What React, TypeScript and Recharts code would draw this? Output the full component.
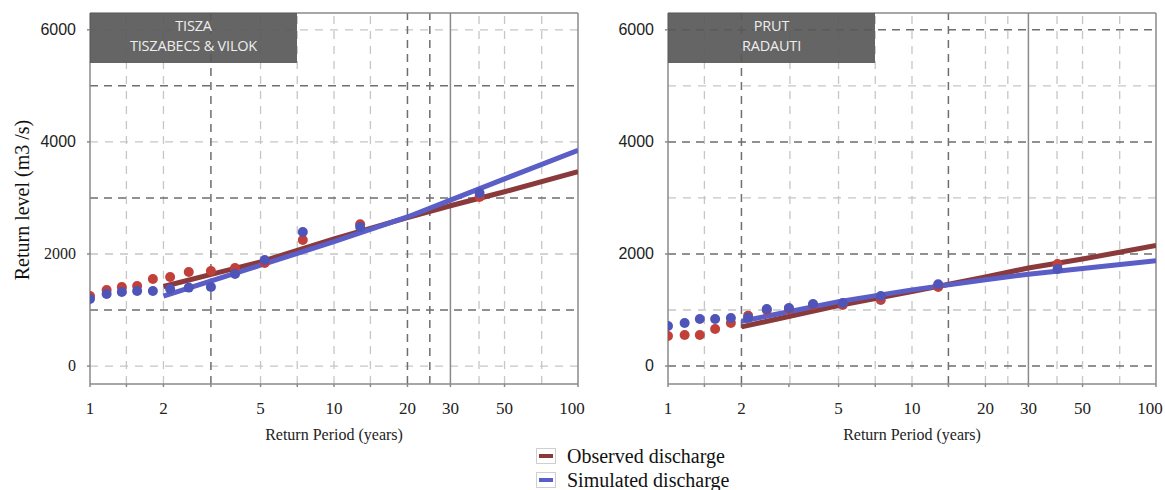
import React from "react";
import {
  ComposedChart,
  Line,
  Scatter,
  XAxis,
  YAxis,
  ReferenceLine,
} from "recharts";

// plotting positions (years) shared by both gauges
const returnPeriods = [1.0, 1.17, 1.35, 1.56, 1.81, 2.13, 2.54, 3.13, 3.93, 5.2, 7.45, 12.8, 39.5];
const tiszaObserved = [1250, 1357, 1411, 1429, 1554, 1589, 1679, 1696, 1750, 1839, 2250, 2530, 3018];
const tiszaSimulated = [1196, 1286, 1321, 1339, 1339, 1375, 1400, 1411, 1643, 1893, 2393, 2482, 3089];
const prutObserved = [536, 554, 554, 661, 768, 900, 1000, 1020, 1090, 1089, 1179, 1411, 1821];
const prutSimulated = [714, 768, 839, 839, 857, 860, 1018, 1036, 1107, 1125, 1250, 1460, 1732];

// fitted curves
const fitPeriods = [2, 5, 10, 20, 30, 50, 100];
const tiszaObservedFit = [1420, 1860, 2270, 2650, 2860, 3110, 3470];
const tiszaSimulatedFit = [1250, 1800, 2220, 2660, 2960, 3340, 3850];
const prutObservedFit = [700, 1080, 1330, 1590, 1750, 1910, 2150];
const prutSimulatedFit = [800, 1150, 1360, 1540, 1640, 1740, 1880];

const xTicks = [1, 1.41, 2, 3.13, 5, 7.07, 10, 14.1, 20, 30, 50, 100];
const xLabels = [1, 2, 5, 10, 20, 30, 50, 100];
const yTicks = [0, 2000, 4000, 6000];

const SERIF = "'Liberation Serif', 'Times New Roman', serif";
const SANS = "'Liberation Sans', Arial, sans-serif";

const OBS_LINE = "#8a3a3a";
const SIM_LINE = "#5a5ec6";
const OBS_DOT = "#c2403a";
const SIM_DOT = "#4e54b8";

const toPoints = (xs: number[], ys: number[]) => xs.map((x, i) => ({ x, y: ys[i] }));

const YTick = (props: any) => {
  const { x, y, payload, serifValues } = props;
  const serif = serifValues.includes(payload.value);
  return (
    <text
      x={x}
      y={y}
      dy={5}
      textAnchor="end"
      fontSize={16}
      fontFamily={serif ? SERIF : SANS}
      fill="#222"
    >
      {payload.value}
    </text>
  );
};

const XTick = (props: any) => {
  const { x, y, payload } = props;
  if (!xLabels.includes(payload.value)) return null;
  // the last label sits a little left of its tick, as in the source figure
  const shift = payload.value === 100 ? -6 : 0;
  return (
    <text x={x + shift} y={y} dy={13} textAnchor="middle" fontSize={17} fontFamily={SERIF} fill="#222">
      {payload.value}
    </text>
  );
};

const Dot = (color: string) => (props: any) =>
  <circle cx={props.cx} cy={props.cy} r={5} fill={color} />;

type PanelProps = {
  left: number;
  title: string[];
  observed: number[];
  simulated: number[];
  observedFit: number[];
  simulatedFit: number[];
  lightV: number[];
  darkV: number[];
  lightH: number[];
  darkH: number[];
  serifTicks: number[];
};

const Panel = (p: PanelProps) => {
  const light = { stroke: "#c6c6c6", strokeDasharray: "8 7", strokeWidth: 1.3 };
  const dark = { stroke: "#6e6e6e", strokeDasharray: "8 6", strokeWidth: 1.5 };
  return (
    <div style={{ position: "absolute", left: p.left, top: 0 }}>
      <ComposedChart width={600} height={490} margin={{ top: 13, right: 22, bottom: 76, left: 30 }}>
        <XAxis
          dataKey="x"
          type="number"
          scale="log"
          domain={[1, 100]}
          allowDataOverflow
          ticks={xTicks}
          interval={0}
          height={30}
          tickSize={3}
          tickMargin={14}
          stroke="#8a8a8a"
          strokeWidth={1.5}
          tick={(t: any) => <XTick {...t} />}
        />
        <YAxis
          type="number"
          domain={[-320, 6300]}
          allowDataOverflow
          ticks={yTicks}
          interval={0}
          width={60}
          tickSize={3}
          tickMargin={11}
          stroke="#8a8a8a"
          strokeWidth={1.5}
          tick={(t: any) => <YTick {...t} serifValues={p.serifTicks} />}
        />
        {p.lightH.map((v) => <ReferenceLine key={"lh" + v} y={v} {...light} />)}
        {p.lightV.map((v) => <ReferenceLine key={"lv" + v} x={v} {...light} />)}
        {p.darkH.map((v) => <ReferenceLine key={"dh" + v} y={v} {...dark} />)}
        {p.darkV.map((v) => <ReferenceLine key={"dv" + v} x={v} {...dark} />)}
        <ReferenceLine x={30} stroke="#8a8a8a" strokeWidth={1.5} />
        <ReferenceLine x={100} stroke="#8a8a8a" strokeWidth={1.5} />
        <ReferenceLine y={6300} stroke="#8a8a8a" strokeWidth={1.5} />
        <Scatter
          data={toPoints(returnPeriods, p.observed)}
          dataKey="y"
          shape={Dot(OBS_DOT)}
          isAnimationActive={false}
        />
        <Scatter
          data={toPoints(returnPeriods, p.simulated)}
          dataKey="y"
          shape={Dot(SIM_DOT)}
          isAnimationActive={false}
        />
        <Line
          data={toPoints(fitPeriods, p.observedFit)}
          dataKey="y"
          type="linear"
          stroke={OBS_LINE}
          strokeWidth={5}
          dot={false}
          activeDot={false}
          isAnimationActive={false}
        />
        <Line
          data={toPoints(fitPeriods, p.simulatedFit)}
          dataKey="y"
          type="linear"
          stroke={SIM_LINE}
          strokeWidth={5}
          dot={false}
          activeDot={false}
          isAnimationActive={false}
        />
      </ComposedChart>
      <div
        style={{
          position: "absolute",
          left: 90,
          top: 13,
          width: 207,
          height: 50,
          background: "rgba(88,88,88,0.92)",
          color: "#eeeeee",
          fontFamily: "'Open Sans', 'Noto Sans', sans-serif",
          fontSize: 14.5,
          lineHeight: "20px",
          textAlign: "center",
          paddingTop: 3,
          boxSizing: "border-box",
          letterSpacing: -0.2,
        }}
      >
        {p.title.map((t) => <div key={t}>{t}</div>)}
      </div>
      <div
        style={{
          position: "absolute",
          left: 254,
          top: 426,
          width: 160,
          textAlign: "center",
          fontFamily: SERIF,
          fontSize: 16,
          color: "#222",
          whiteSpace: "nowrap",
        }}
      >
        Return Period (years)
      </div>
    </div>
  );
};

const LegendRow = ({ color, label, top }: { color: string; label: string; top: number }) => (
  <div style={{ position: "absolute", left: 536, top, display: "flex", alignItems: "center" }}>
    <div
      style={{
        width: 20,
        height: 16,
        border: "1px solid #cfcfcf",
        boxSizing: "border-box",
        display: "flex",
        alignItems: "center",
        justifyContent: "center",
      }}
    >
      <div style={{ width: 14, height: 4, background: color }} />
    </div>
    <span style={{ marginLeft: 11, fontFamily: SERIF, fontSize: 20, color: "#111", lineHeight: "22px" }}>
      {label}
    </span>
  </div>
);

export default function App() {
  return (
    <div style={{ position: "absolute", left: 0, top: 0, width: 1165, height: 490, background: "#fff", overflow: "hidden" }}>
      <Panel
        left={0}
        title={["TISZA", "TISZABECS & VILOK"]}
        observed={tiszaObserved}
        simulated={tiszaSimulated}
        observedFit={tiszaObservedFit}
        simulatedFit={tiszaSimulatedFit}
        lightV={[1.41, 2, 5, 7.07, 10, 14.1, 39.3, 50, 71]}
        darkV={[3.13, 20, 24.7]}
        lightH={[0, 2000, 4000, 6000]}
        darkH={[1000, 3000, 5000]}
        serifTicks={[0, 2000]}
      />
      <Panel
        left={578}
        title={["PRUT", "RADAUTI"]}
        observed={prutObserved}
        simulated={prutSimulated}
        observedFit={prutObservedFit}
        simulatedFit={prutSimulatedFit}
        lightV={[1.41, 3.16, 5, 7.07, 10, 20, 24.7, 39.3, 50, 71]}
        darkV={[2, 14.1]}
        lightH={[1000, 3000, 5000]}
        darkH={[0, 2000, 4000, 6000]}
        serifTicks={[]}
      />
      <div
        style={{
          position: "absolute",
          left: 22,
          top: 200,
          transform: "translate(-50%, -50%) rotate(-90deg)",
          fontFamily: SERIF,
          fontSize: 20,
          color: "#111",
          whiteSpace: "nowrap",
        }}
      >
        Return level (m3 /s)
      </div>
      <LegendRow color={OBS_LINE} label="Observed discharge" top={445} />
      <LegendRow color={SIM_LINE} label="Simulated discharge" top={469} />
    </div>
  );
}
